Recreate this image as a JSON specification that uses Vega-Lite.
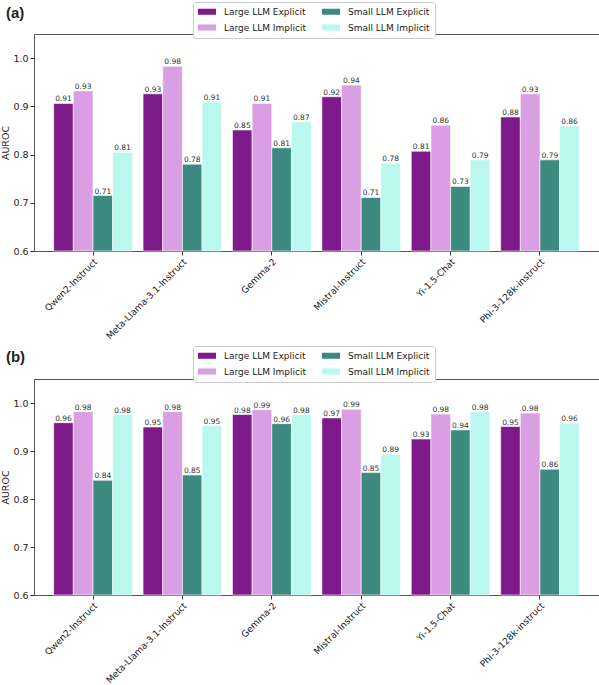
{
  "$schema": "https://vega.github.io/schema/vega-lite/v6.json",
  "padding": {"top": 1, "left": 0, "right": 0, "bottom": 0},
  "datasets": {
    "auroc": [
      {"panel": "a", "model": "Qwen2-Instruct", "series": "Large LLM Explicit", "value": 0.906},
      {"panel": "a", "model": "Qwen2-Instruct", "series": "Large LLM Implicit", "value": 0.932},
      {"panel": "a", "model": "Qwen2-Instruct", "series": "Small LLM Explicit", "value": 0.715},
      {"panel": "a", "model": "Qwen2-Instruct", "series": "Small LLM Implicit", "value": 0.805},
      {"panel": "a", "model": "Meta-Llama-3.1-Instruct", "series": "Large LLM Explicit", "value": 0.926},
      {"panel": "a", "model": "Meta-Llama-3.1-Instruct", "series": "Large LLM Implicit", "value": 0.983},
      {"panel": "a", "model": "Meta-Llama-3.1-Instruct", "series": "Small LLM Explicit", "value": 0.780},
      {"panel": "a", "model": "Meta-Llama-3.1-Instruct", "series": "Small LLM Implicit", "value": 0.909},
      {"panel": "a", "model": "Gemma-2", "series": "Large LLM Explicit", "value": 0.851},
      {"panel": "a", "model": "Gemma-2", "series": "Large LLM Implicit", "value": 0.906},
      {"panel": "a", "model": "Gemma-2", "series": "Small LLM Explicit", "value": 0.814},
      {"panel": "a", "model": "Gemma-2", "series": "Small LLM Implicit", "value": 0.868},
      {"panel": "a", "model": "Mistral-Instruct", "series": "Large LLM Explicit", "value": 0.920},
      {"panel": "a", "model": "Mistral-Instruct", "series": "Large LLM Implicit", "value": 0.944},
      {"panel": "a", "model": "Mistral-Instruct", "series": "Small LLM Explicit", "value": 0.711},
      {"panel": "a", "model": "Mistral-Instruct", "series": "Small LLM Implicit", "value": 0.782},
      {"panel": "a", "model": "Yi-1.5-Chat", "series": "Large LLM Explicit", "value": 0.807},
      {"panel": "a", "model": "Yi-1.5-Chat", "series": "Large LLM Implicit", "value": 0.861},
      {"panel": "a", "model": "Yi-1.5-Chat", "series": "Small LLM Explicit", "value": 0.734},
      {"panel": "a", "model": "Yi-1.5-Chat", "series": "Small LLM Implicit", "value": 0.789},
      {"panel": "a", "model": "Phi-3-128k-instruct", "series": "Large LLM Explicit", "value": 0.878},
      {"panel": "a", "model": "Phi-3-128k-instruct", "series": "Large LLM Implicit", "value": 0.926},
      {"panel": "a", "model": "Phi-3-128k-instruct", "series": "Small LLM Explicit", "value": 0.789},
      {"panel": "a", "model": "Phi-3-128k-instruct", "series": "Small LLM Implicit", "value": 0.859},
      {"panel": "b", "model": "Qwen2-Instruct", "series": "Large LLM Explicit", "value": 0.959},
      {"panel": "b", "model": "Qwen2-Instruct", "series": "Large LLM Implicit", "value": 0.982},
      {"panel": "b", "model": "Qwen2-Instruct", "series": "Small LLM Explicit", "value": 0.839},
      {"panel": "b", "model": "Qwen2-Instruct", "series": "Small LLM Implicit", "value": 0.976},
      {"panel": "b", "model": "Meta-Llama-3.1-Instruct", "series": "Large LLM Explicit", "value": 0.950},
      {"panel": "b", "model": "Meta-Llama-3.1-Instruct", "series": "Large LLM Implicit", "value": 0.982},
      {"panel": "b", "model": "Meta-Llama-3.1-Instruct", "series": "Small LLM Explicit", "value": 0.850},
      {"panel": "b", "model": "Meta-Llama-3.1-Instruct", "series": "Small LLM Implicit", "value": 0.953},
      {"panel": "b", "model": "Gemma-2", "series": "Large LLM Explicit", "value": 0.976},
      {"panel": "b", "model": "Gemma-2", "series": "Large LLM Implicit", "value": 0.986},
      {"panel": "b", "model": "Gemma-2", "series": "Small LLM Explicit", "value": 0.957},
      {"panel": "b", "model": "Gemma-2", "series": "Small LLM Implicit", "value": 0.976},
      {"panel": "b", "model": "Mistral-Instruct", "series": "Large LLM Explicit", "value": 0.969},
      {"panel": "b", "model": "Mistral-Instruct", "series": "Large LLM Implicit", "value": 0.987},
      {"panel": "b", "model": "Mistral-Instruct", "series": "Small LLM Explicit", "value": 0.855},
      {"panel": "b", "model": "Mistral-Instruct", "series": "Small LLM Implicit", "value": 0.893},
      {"panel": "b", "model": "Yi-1.5-Chat", "series": "Large LLM Explicit", "value": 0.925},
      {"panel": "b", "model": "Yi-1.5-Chat", "series": "Large LLM Implicit", "value": 0.977},
      {"panel": "b", "model": "Yi-1.5-Chat", "series": "Small LLM Explicit", "value": 0.944},
      {"panel": "b", "model": "Yi-1.5-Chat", "series": "Small LLM Implicit", "value": 0.982},
      {"panel": "b", "model": "Phi-3-128k-instruct", "series": "Large LLM Explicit", "value": 0.951},
      {"panel": "b", "model": "Phi-3-128k-instruct", "series": "Large LLM Implicit", "value": 0.979},
      {"panel": "b", "model": "Phi-3-128k-instruct", "series": "Small LLM Explicit", "value": 0.862},
      {"panel": "b", "model": "Phi-3-128k-instruct", "series": "Small LLM Implicit", "value": 0.958}
    ]
  },
  "data": {"name": "auroc"},
  "spacing": 3,
  "resolve": {"legend": {"color": "independent"}},
  "vconcat": [
    {
      "title": {"text": "(a)", "anchor": "start", "frame": "bounds", "dx": 5, "offset": -19, "fontSize": 15, "fontWeight": "bold", "font": "Liberation Sans", "color": "#222"},
      "width": 565,
      "height": 217,
      "transform": [{"filter": "datum.panel == 'a'"}],
      "encoding": {
        "x": {"field": "model", "type": "nominal", "sort": null, "title": null,
              "scale": {"paddingInner": 0.12, "paddingOuter": 0.22}},
        "xOffset": {"field": "series", "type": "nominal",
                    "scale": {"domain": ["Large LLM Explicit", "Large LLM Implicit", "Small LLM Explicit", "Small LLM Implicit"], "paddingInner": 0}},
        "y": {"field": "value", "type": "quantitative", "title": "AUROC",
              "scale": {"domain": [0.6, 1.05], "zero": false, "nice": false},
              "axis": {"values": [0.6, 0.7, 0.8, 0.9, 1.0], "format": ".1f"}}
      },
      "layer": [
        {
          "mark": {"type": "bar", "stroke": "white", "strokeWidth": 0.6},
          "encoding": {
            "y2": {"datum": 0.6},
            "color": {"field": "series", "type": "nominal",
                      "scale": {"domain": ["Large LLM Explicit", "Large LLM Implicit", "Small LLM Explicit", "Small LLM Implicit"],
                                "range": ["#7f1a8b", "#d99fe2", "#3c8a80", "#baf7ef"]},
                      "legend": {"orient": "none", "legendX": 159, "legendY": -32}}
          }
        },
        {
          "mark": {"type": "text", "dy": -4, "fontSize": 7.5, "font": "DejaVu Sans", "color": "#333"},
          "encoding": {"text": {"field": "value", "type": "quantitative", "format": ".2f"}}
        }
      ]
    },
    {
      "title": {"text": "(b)", "anchor": "start", "frame": "bounds", "dx": 5, "offset": -19, "fontSize": 15, "fontWeight": "bold", "font": "Liberation Sans", "color": "#222"},
      "width": 565,
      "height": 216,
      "transform": [{"filter": "datum.panel == 'b'"}],
      "encoding": {
        "x": {"field": "model", "type": "nominal", "sort": null, "title": null,
              "scale": {"paddingInner": 0.12, "paddingOuter": 0.22}},
        "xOffset": {"field": "series", "type": "nominal",
                    "scale": {"domain": ["Large LLM Explicit", "Large LLM Implicit", "Small LLM Explicit", "Small LLM Implicit"], "paddingInner": 0}},
        "y": {"field": "value", "type": "quantitative", "title": "AUROC",
              "scale": {"domain": [0.6, 1.05], "zero": false, "nice": false},
              "axis": {"values": [0.6, 0.7, 0.8, 0.9, 1.0], "format": ".1f"}}
      },
      "layer": [
        {
          "mark": {"type": "bar", "stroke": "white", "strokeWidth": 0.6},
          "encoding": {
            "y2": {"datum": 0.6},
            "color": {"field": "series", "type": "nominal",
                      "scale": {"domain": ["Large LLM Explicit", "Large LLM Implicit", "Small LLM Explicit", "Small LLM Implicit"],
                                "range": ["#7f1a8b", "#d99fe2", "#3c8a80", "#baf7ef"]},
                      "legend": {"orient": "none", "legendX": 159, "legendY": -33}}
          }
        },
        {
          "mark": {"type": "text", "dy": -4, "fontSize": 7.5, "font": "DejaVu Sans", "color": "#333"},
          "encoding": {"text": {"field": "value", "type": "quantitative", "format": ".2f"}}
        }
      ]
    }
  ],
  "config": {
    "font": "DejaVu Sans",
    "view": {"stroke": "#555555", "strokeWidth": 1},
    "legend": {
      "columns": 2, "title": null,
      "symbolType": "M-1,-0.67H3V0.67H-1Z", "symbolSize": 81, "symbolStrokeWidth": 0,
      "labelFontSize": 9, "labelFont": "DejaVu Sans", "labelColor": "#222", "labelOffset": 17,
      "columnPadding": 16, "rowPadding": 6, "padding": 5,
      "strokeColor": "#cccccc", "fillColor": "white", "cornerRadius": 3
    },
    "axis": {
      "grid": false,
      "domain": false,
      "tickColor": "#333333",
      "tickSize": 4,
      "labelFont": "DejaVu Sans",
      "labelFontSize": 9.5,
      "labelColor": "#222222",
      "titleFont": "DejaVu Sans",
      "titleFontSize": 9.5,
      "titleFontWeight": "normal",
      "titleColor": "#222222"
    },
    "axisX": {"labelAngle": -45, "labelAlign": "right", "labelBaseline": "top", "labelPadding": 2, "labelFontSize": 9.1},
    "axisY": {"titlePadding": 2}
  }
}
